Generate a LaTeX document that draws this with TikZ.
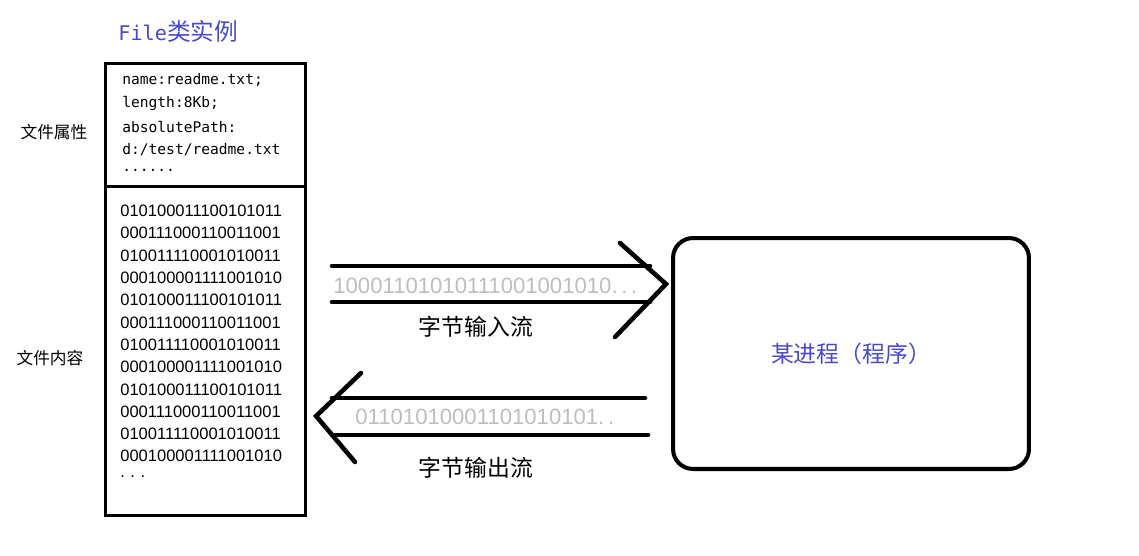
\documentclass[tikz,border=0pt]{standalone}
\usepackage{fontspec}
\setmainfont{Liberation Sans}
\setmonofont{DejaVu Sans Mono}
\newfontfamily\cjk{Noto Sans CJK SC}
\usetikzlibrary{positioning, calc}

\definecolor{procblue}{RGB}{72,72,208}
\definecolor{bitgray}{RGB}{190,190,190}

\tikzset{
    boxline/.style = {draw, line width = 1.8pt, minimum width = 4cm, inner sep = 0},
    streamline/.style = {line width = 2.6pt, line cap = round},
    sidelabel/.style = {inner sep = 0, font = \cjk\fontsize{9.5}{11}\selectfont},
    streamlabel/.style = {inner sep = 0, font = \cjk\fontsize{13}{15}\selectfont},
    bits/.style = {inner sep = 0, text = bitgray, font = \fontsize{12.6}{14}\selectfont},
}

\begin{document}
\begin{tikzpicture}[x = 0.02cm, y = -0.02cm]

    \useasboundingbox (0,0) rectangle (1139,555);

    % File instance
    \node[anchor = west, inner sep = 0, text = procblue] (Title) at (118,31)
        {\ttfamily\fontsize{11.5}{13}\selectfont File\cjk\fontsize{13.5}{15}\selectfont 类实例};

    \node[boxline, anchor = north west, minimum height = 2.46cm] (Attr) at (104,62) {};
    \node[boxline, anchor = north west, minimum height = 6.58cm] (Content) at (104,185) {};

    \foreach \TXT [count = \i from 0] in {name:readme.txt;, length:8Kb;, absolutePath:, d:/test/readme.txt}
        \node[anchor = west, inner sep = 0, font = \ttfamily\fontsize{8.3}{10}\selectfont] (AttrLine\i) at (122,80+23.3*\i) {\TXT};
    \node[anchor = west, inner sep = 0, font = \ttfamily\fontsize{8.3}{10}\selectfont] (AttrDots) at (122,170) {......};

    \foreach \TXT [count = \i from 0] in {010100011100101011, 000111000110011001, 010011110001010011, 000100001111001010,
                                           010100011100101011, 000111000110011001, 010011110001010011, 000100001111001010,
                                           010100011100101011, 000111000110011001, 010011110001010011, 000100001111001010}
        \node[anchor = west, inner sep = 0, font = \fontsize{9.4}{11}\selectfont] (Bits\i) at (120,211+22.3*\i) {\TXT};
    \node[anchor = west, inner sep = 0, font = \fontsize{9.4}{11}\selectfont] (BitsDots) at (120,477) {.\,\,.\,\,.};

    \node[sidelabel] (AttrLabel) at (54,132) {文件属性};
    \node[sidelabel] (ContentLabel) at (50,358) {文件内容};

    % process
    \node[draw, line width = 2.3pt, rounded corners = 0.4cm, minimum width = 7.12cm, minimum height = 4.62cm,
          text = procblue, font = \cjk\fontsize{13}{15}\selectfont] (Proc) at (851,353.5) {某进程（程序）};

    % input stream
    \coordinate (InTip) at ($(Proc.west)+(-5,-69.5)$);
    \draw[streamline] (332,266) -- (650,266);
    \draw[streamline] (332,302) -- (650,302);
    \draw[streamline] (620,243) -- (InTip) -- (615,337);
    \node[bits, anchor = west] (InBits) at (333,286) {10001101010111001001010.\,.\,.};
    \node[streamlabel] (InLabel) at (476,327) {字节输入流};

    % output stream
    \coordinate (OutTip) at ($(Content.east)+(9,65)$);
    \draw[streamline] (332,398) -- (645,398);
    \draw[streamline] (332,435) -- (648,435);
    \draw[streamline] (361,373) -- (OutTip) -- (355,462);
    \node[bits, anchor = west] (OutBits) at (355,417) {01101010001101010101.\,.};
    \node[streamlabel] (OutLabel) at (476,468) {字节输出流};

\end{tikzpicture}
\end{document}
